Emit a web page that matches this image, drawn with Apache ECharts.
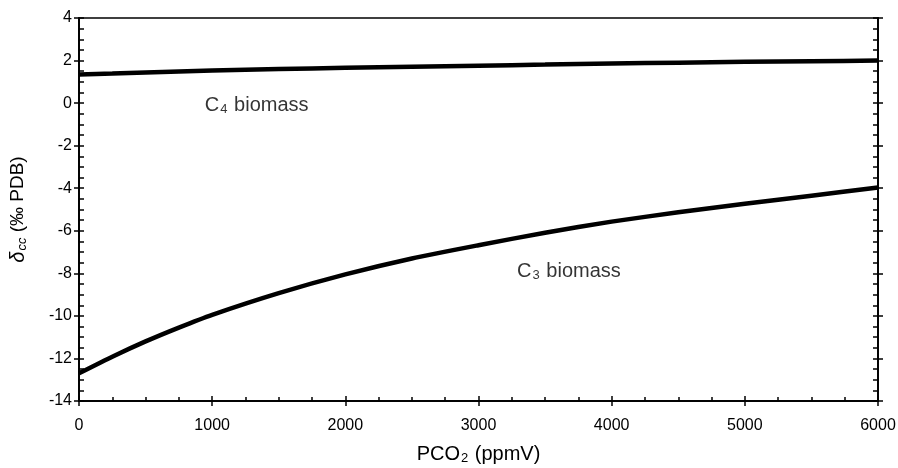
<!DOCTYPE html>
<html>
<head>
<meta charset="utf-8">
<script src="https://cdn.jsdelivr.net/npm/echarts@6/dist/echarts.min.js"></script>
<style>
  html, body { margin: 0; padding: 0; background: #fff; }
  #container { width: 898px; height: 468px; }
</style>
</head>
<body>
<div id="container"></div>
<script>
// PCO2 (ppmV) sample points
const pco2 = [0, 250, 500, 750, 1000, 1500, 2000, 2500, 3000, 3500, 4000, 4500, 5000, 5500, 6000];
// delta cc for C3 and C4 biomass
const c3Values = [-12.7, -11.92, -11.2, -10.55, -9.95, -8.93, -8.05, -7.3, -6.68, -6.09, -5.57, -5.13, -4.73, -4.35, -3.97];
const c4Values = [1.35, 1.39, 1.44, 1.49, 1.53, 1.6, 1.66, 1.71, 1.76, 1.81, 1.86, 1.9, 1.94, 1.97, 2.0];
// curve labels: [x, y, text]
const curveLabels = [
  [945, -0.1, '{t|C}{s|4}{t| biomass}'],
  [3290, -7.9, '{t|C}{s|3}{t| biomass}']
];

const font = 'Liberation Sans, Arial, sans-serif';
const black = '#000';

let graph = echarts.init(document.getElementById('container'));

const labelRich = {
  t: { fontFamily: font, fontSize: 20, color: black },
  s: { fontFamily: font, fontSize: 13, color: black, padding: [9, 1, 0, 1] }
};

function xAxisBase(extra) {
  return Object.assign({
    type: 'value',
    position: 'bottom',
    min: 0,
    max: 6000,
    interval: 1000,
    splitLine: { show: false },
    axisLine: { show: true, onZero: false, lineStyle: { color: black, width: 1.5 } }
  }, extra);
}
function yAxisBase(extra) {
  return Object.assign({
    type: 'value',
    min: -14,
    max: 4,
    interval: 2,
    splitLine: { show: false },
    axisLine: { show: true, onZero: false, lineStyle: { color: black, width: 1.5 } }
  }, extra);
}

let option = {
  animation: false,
  backgroundColor: '#fff',
  grid: {
    left: 79,
    right: 20,
    top: 18,
    bottom: 67,
    outerBoundsMode: 'none',
    containLabel: false,
    show: true,
    borderColor: black,
    borderWidth: 1.5
  },
  xAxis: [
    xAxisBase({
      name: '{t|PCO}{s|2}{t| (ppmV)}',
      nameLocation: 'middle',
      nameGap: 42,
      nameTextStyle: { rich: labelRich },
      axisTick: { show: true, inside: false, length: 5, lineStyle: { color: black, width: 1.5 } },
      axisLabel: { color: black, fontFamily: font, fontSize: 16, margin: 17, formatter: (v) => String(v) }
    }),
    xAxisBase({
      axisTick: { show: true, inside: true, length: 5, lineStyle: { color: black, width: 1.5 } },
      minorTick: { show: true, splitNumber: 4, length: 4, lineStyle: { color: black, width: 1.5 } },
      axisLabel: { show: false }
    })
  ],
  yAxis: [
    yAxisBase({
      position: 'left',
      name: '{d|δ}{c|cc}{n| (‰ PDB)}',
      nameLocation: 'middle',
      nameGap: 50,
      nameRotate: 90,
      nameTextStyle: {
        rich: {
          d: { fontFamily: font, fontSize: 20, fontStyle: 'italic', color: black },
          c: { fontFamily: font, fontSize: 13, fontStyle: 'italic', color: black, padding: [9, 0, 0, 1] },
          n: { fontFamily: font, fontSize: 19, color: black }
        }
      },
      axisTick: { show: true, inside: false, length: 5, lineStyle: { color: black, width: 1.5 } },
      axisLabel: { color: black, fontFamily: font, fontSize: 16, margin: 7 }
    }),
    yAxisBase({
      position: 'left',
      axisTick: { show: true, inside: true, length: 5, lineStyle: { color: black, width: 1.5 } },
      minorTick: { show: true, splitNumber: 4, length: 5, lineStyle: { color: black, width: 1.5 } },
      axisLabel: { show: false }
    }),
    yAxisBase({
      position: 'right',
      axisTick: { show: true, inside: false, length: 5, lineStyle: { color: black, width: 1.5 } },
      axisLabel: { show: false }
    }),
    yAxisBase({
      position: 'right',
      axisTick: { show: true, inside: true, length: 5, lineStyle: { color: black, width: 1.5 } },
      minorTick: { show: true, splitNumber: 4, length: 5, lineStyle: { color: black, width: 1.5 } },
      axisLabel: { show: false }
    })
  ],
  series: [
    {
      name: 'C4 biomass',
      type: 'line',
      smooth: 0.2,
      symbol: 'none',
      data: pco2.map((x, i) => [x, c4Values[i]]),
      lineStyle: { color: black, width: 4.5 }
    },
    {
      name: 'C3 biomass',
      type: 'line',
      smooth: 0.2,
      symbol: 'none',
      data: pco2.map((x, i) => [x, c3Values[i]]),
      lineStyle: { color: black, width: 4.5 }
    },
    {
      name: 'labels',
      type: 'scatter',
      symbolSize: 0,
      silent: true,
      data: curveLabels.map((l) => ({ value: [l[0], l[1]], text: l[2] })),
      label: {
        show: true,
        position: 'right',
        distance: 0,
        color: black,
        formatter: (p) => p.data.text,
        rich: labelRich
      }
    }
  ]
};

graph.setOption(option);
</script>
</body>
</html>
